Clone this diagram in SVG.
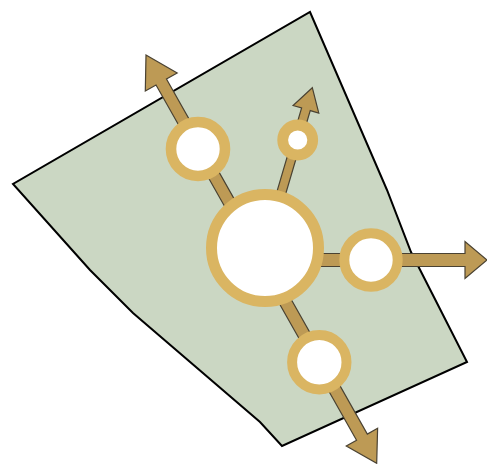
<svg xmlns="http://www.w3.org/2000/svg" width="487" height="464" viewBox="0 0 487 464">
  <style>
    .area { fill: #cbd7c3; stroke: #000; stroke-width: 2; stroke-linejoin: miter; }
    .arrow { fill: #bd9a55; stroke: #4a4232; stroke-width: 1.2; stroke-linejoin: miter; }
    .ring { fill: #ffffff; stroke: #dab562; }
  </style>
  <rect width="487" height="464" fill="#ffffff"/>
  <g id="area">
    <polygon class="area" points="310,12 387,190 411,252 467,362 282,446 260,422 133,313 90,270 13,184"/>
  </g>
  <g id="connectors">
    <path class="arrow" transform="translate(146,55) rotate(-119.46)" d="M0,0 L-31,-18.3 L-31,-6 L-222,-6 L-222,6 L-31,6 L-31,18.3 Z"/>
    <path class="arrow" transform="translate(376.7,463.3) rotate(60.53)" d="M0,0 L-30,-18 L-30,-6.2 L-247,-6.2 L-247,6.2 L-30,6.2 L-30,18 Z"/>
    <path class="arrow" transform="translate(312.3,87.7) rotate(-73.56)" d="M0,0 L-22.5,-13.4 L-22.5,-4.5 L-167,-4.5 L-167,4.5 L-22.5,4.5 L-22.5,13.4 Z"/>
    <path class="arrow" d="M487,260 L465,241.5 L465,253.5 L265,253.5 L265,266.5 L465,266.5 L465,278.5 Z"/>
  </g>
  <g id="node-center">
    <circle class="ring" cx="265" cy="248" r="53.5" stroke-width="11"/>
  </g>
  <g id="node-top-left">
    <circle class="ring" cx="198" cy="149" r="27" stroke-width="10.6"/>
  </g>
  <g id="node-top-small">
    <circle class="ring" cx="297.7" cy="140" r="15" stroke-width="10.8"/>
  </g>
  <g id="node-right">
    <circle class="ring" cx="371" cy="260" r="26.7" stroke-width="10"/>
  </g>
  <g id="node-bottom">
    <circle class="ring" cx="319.3" cy="362.3" r="27.2" stroke-width="10"/>
  </g>
</svg>
